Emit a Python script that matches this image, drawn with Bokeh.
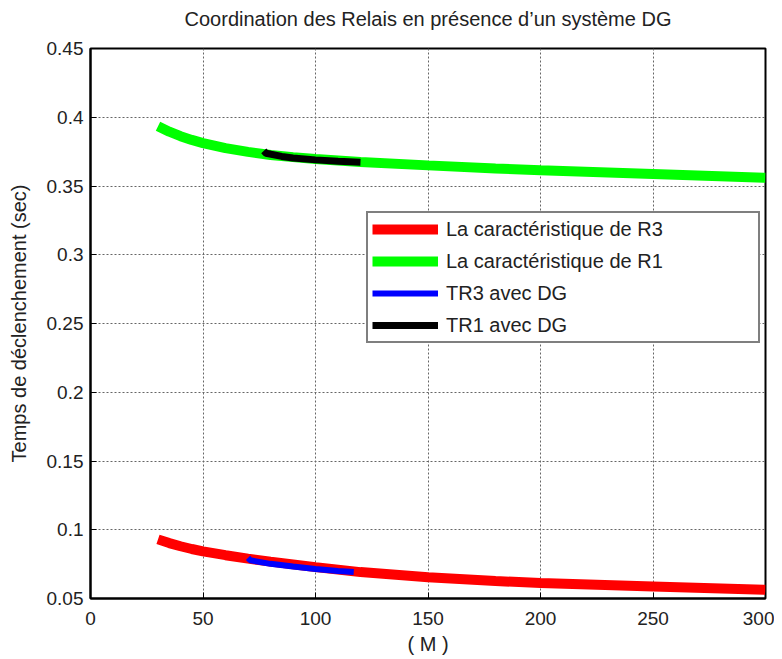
from bokeh.plotting import figure
from bokeh.models import (FixedTicker, CustomJSTickFormatter, Legend, LegendItem, Range1d, Title)
from bokeh.embed import file_html
from bokeh.resources import INLINE

# ---- data ----
m_r3 = [30, 35, 40, 45, 50, 60, 70, 80, 90, 100, 120, 150, 180, 200, 250, 300]
t_r3 = [0.0930, 0.0903, 0.0880, 0.0860, 0.0843, 0.0815, 0.0790, 0.0768, 0.0748, 0.0728,
        0.0692, 0.0655, 0.0627, 0.0612, 0.0588, 0.0563]

m_r1 = [30, 35, 40, 45, 50, 60, 70, 80, 90, 100, 120, 150, 180, 200, 250, 300]
t_r1 = [0.3935, 0.3895, 0.3862, 0.3835, 0.3812, 0.3775, 0.3748, 0.3726, 0.3710, 0.3697,
        0.3675, 0.3650, 0.3628, 0.3615, 0.3588, 0.3560]

m_r3_dg = [70, 71, 80, 90, 100, 110, 117]
t_r3_dg = [0.0795, 0.0778, 0.0752, 0.0732, 0.0715, 0.0700, 0.0692]

m_r1_dg = [77, 78, 85, 90, 100, 110, 120]
t_r1_dg = [0.3755, 0.3738, 0.3715, 0.3703, 0.3690, 0.3680, 0.3673]

x_ticks = [0, 50, 100, 150, 200, 250, 300]
y_ticks = [0.05, 0.1, 0.15, 0.2, 0.25, 0.3, 0.35, 0.4, 0.45]

labels = ["La caractéristique de R3", "La caractéristique de R1",
          "TR3 avec DG", "TR1 avec DG"]
title = "Coordination des Relais en présence d\u2019un système DG"

FONT = "Liberation Sans"

p = figure(width=774, height=657, output_backend="svg", toolbar_location=None,
           x_range=Range1d(0, 300), y_range=Range1d(0.05, 0.45),
           min_border_left=90, min_border_right=9, min_border_top=47, min_border_bottom=57)

# spacer (closest to the frame) then the main title
p.add_layout(Title(text=" ", text_font_size="11px", standoff=0), "above")
p.add_layout(Title(text=title, align="center", text_font=FONT, text_font_size="20px",
                   text_font_style="normal", text_color="#222222"), "above")

p.outline_line_color = "black"
p.outline_line_width = 2
p.background_fill_color = "white"
p.border_fill_color = "white"

p.xaxis.ticker = FixedTicker(ticks=x_ticks)
p.yaxis.ticker = FixedTicker(ticks=y_ticks)
p.yaxis.formatter = CustomJSTickFormatter(code="return tick.toFixed(2).replace(/0$/, '');")

for ax in (p.xaxis[0], p.yaxis[0]):
    ax.axis_line_color = "black"
    ax.axis_line_width = 2
    ax.major_tick_in = 6
    ax.major_tick_out = 0
    ax.major_tick_line_color = "black"
    ax.minor_tick_line_color = None
    ax.major_label_text_font = FONT
    ax.major_label_text_font_size = "19px"
    ax.major_label_text_color = "#222222"
    ax.axis_label_text_font = FONT
    ax.axis_label_text_font_size = "20px"
    ax.axis_label_text_font_style = "normal"
    ax.axis_label_text_color = "#222222"

p.xaxis.axis_label = "( M )"
p.yaxis.axis_label = "Temps de déclenchement (sec)"
p.xaxis.major_label_standoff = 13
p.xaxis.axis_label_standoff = 5
p.yaxis.major_label_standoff = 7
p.yaxis.axis_label_standoff = 14

p.grid.grid_line_color = "#666666"
p.grid.grid_line_dash = "2 2"
p.grid.grid_line_width = 1

r_red = p.line(m_r3, t_r3, line_color="#ff0000", line_width=10)
r_green = p.line(m_r1, t_r1, line_color="#00ff00", line_width=10)
r_blue = p.line(m_r3_dg, t_r3_dg, line_color="#0000ff", line_width=6)
r_black = p.line(m_r1_dg, t_r1_dg, line_color="black", line_width=7)

legend = Legend(items=[LegendItem(label=labels[0], renderers=[r_red]),
                       LegendItem(label=labels[1], renderers=[r_green]),
                       LegendItem(label=labels[2], renderers=[r_blue]),
                       LegendItem(label=labels[3], renderers=[r_black])],
                location=(276, 255))
legend.label_text_font = FONT
legend.label_text_font_size = "20px"
legend.label_text_color = "#222222"
legend.border_line_color = "black"
legend.border_line_width = 2
legend.background_fill_color = "white"
legend.background_fill_alpha = 1
legend.padding = 4
legend.spacing = 8
legend.glyph_width = 66
legend.glyph_height = 24
legend.label_height = 24
legend.label_standoff = 8
legend.label_width = 308
legend.margin = 0
p.add_layout(legend, "center")

open("out.html", "w").write(file_html(p, INLINE))
